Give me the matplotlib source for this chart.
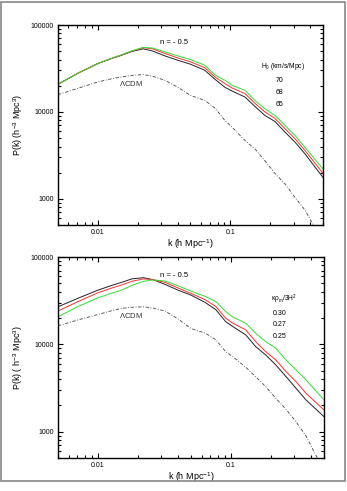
import numpy as np
import matplotlib
matplotlib.use("Agg")
import matplotlib.pyplot as plt
from matplotlib.patches import Rectangle
from matplotlib.ticker import LogLocator, NullFormatter, FixedFormatter, FixedLocator

plt.rcParams['font.family'] = ['Liberation Sans', 'DejaVu Sans']
plt.rcParams['mathtext.fontset'] = 'custom'
plt.rcParams['mathtext.rm'] = 'Liberation Sans'
plt.rcParams['mathtext.it'] = 'Liberation Sans:italic'
plt.rcParams['mathtext.default'] = 'rm'

# wavenumbers (h/Mpc)
k = [0.005, 0.007, 0.01, 0.013, 0.015, 0.018, 0.022, 0.026, 0.032, 0.04, 0.05, 0.064, 0.077,
     0.091, 0.103, 0.129, 0.153, 0.182, 0.217, 0.259, 0.308, 0.366, 0.5]

# log10 P(k), top panel: H0 = 70 / 68 / 65
top_black = [4.318, 4.442, 4.557, 4.620, 4.650, 4.695, 4.726, 4.700, 4.645, 4.595, 4.549, 4.480,
             4.372, 4.283, 4.240, 4.171, 4.064, 3.960, 3.890, 3.766, 3.651, 3.517, 3.246]
top_red = [4.318, 4.442, 4.557, 4.622, 4.653, 4.700, 4.740, 4.725, 4.673, 4.622, 4.576, 4.509,
           4.399, 4.325, 4.275, 4.210, 4.100, 4.000, 3.925, 3.805, 3.690, 3.555, 3.293]
top_green = [4.318, 4.442, 4.557, 4.624, 4.655, 4.702, 4.742, 4.735, 4.691, 4.645, 4.603, 4.538,
             4.422, 4.364, 4.306, 4.249, 4.133, 4.037, 3.960, 3.844, 3.728, 3.593, 3.341]
top_lcdm = [4.199, 4.270, 4.345, 4.385, 4.402, 4.420, 4.430, 4.410, 4.364, 4.285, 4.190, 4.133,
            4.040, 3.900, 3.824, 3.671, 3.575, 3.439, 3.293, 3.170, 3.015, 2.869, 2.500]

# log10 P(k), bottom panel: kappa rho_m / 3H^2 = 0.30 / 0.27 / 0.25
bot_black = [4.430, 4.525, 4.621, 4.680, 4.709, 4.750, 4.763, 4.740, 4.686, 4.620, 4.564, 4.479,
             4.396, 4.261, 4.204, 4.109, 3.975, 3.880, 3.765, 3.631, 3.497, 3.364, 3.172]
bot_red = [4.381, 4.487, 4.591, 4.650, 4.679, 4.722, 4.750, 4.740, 4.709, 4.645, 4.583, 4.510,
           4.433, 4.300, 4.243, 4.166, 4.032, 3.917, 3.822, 3.688, 3.573, 3.440, 3.249]
bot_green = [4.315, 4.430, 4.533, 4.590, 4.621, 4.675, 4.722, 4.737, 4.725, 4.670, 4.610, 4.548,
             4.491, 4.376, 4.312, 4.243, 4.128, 4.032, 3.956, 3.822, 3.708, 3.593, 3.364]
bot_lcdm = [4.212, 4.278, 4.342, 4.390, 4.411, 4.425, 4.430, 4.415, 4.381, 4.290, 4.181, 4.128,
            4.052, 3.917, 3.860, 3.738, 3.631, 3.516, 3.383, 3.257, 3.115, 2.951, 2.550]

top_title = r"H$_0$ (km/s/Mpc)"
top_vals = ["70", "68", "65"]
bot_title = r"$\kappa\rho_m$/3H$^2$"
bot_vals = ["0.30", "0.27", "0.25"]

fig = plt.figure(figsize=(3.47, 4.91), dpi=100)
W, H = 347, 491

def make_ax(x0, y0, x1, y1):
    return fig.add_axes([x0 / W, 1 - y1 / H, (x1 - x0) / W, (y1 - y0) / H])

def draw(ax, blk, red, grn, lcdm, ylab, title, vals):
    ax.plot(k, 10 ** np.array(lcdm), color='#444444', lw=0.6, ls=(0, (4, 2, 1, 2)))
    ax.plot(k, 10 ** np.array(blk), color='#222222', lw=0.7)
    ax.plot(k, 10 ** np.array(red), color='#ff3030', lw=0.7)
    ax.plot(k, 10 ** np.array(grn), color='#30e030', lw=0.7)
    ax.set_xscale('log')
    ax.set_yscale('log')
    ax.set_xlim(0.005, 0.5)
    ax.set_ylim(500, 100000)
    ax.yaxis.set_major_locator(FixedLocator([1000, 10000, 100000]))
    ax.yaxis.set_major_formatter(FixedFormatter(["1000", "10000", "100000"]))
    ax.yaxis.set_minor_locator(LogLocator(base=10, subs=np.arange(2, 10)))
    ax.yaxis.set_minor_formatter(NullFormatter())
    ax.xaxis.set_major_locator(FixedLocator([0.01, 0.1]))
    ax.xaxis.set_major_formatter(FixedFormatter(["0.01", "0.1"]))
    ax.xaxis.set_minor_locator(LogLocator(base=10, subs=np.arange(2, 10)))
    ax.xaxis.set_minor_formatter(NullFormatter())
    ax.tick_params(which='both', direction='in', top=True, right=True, labelsize=5, width=0.8)
    ax.tick_params(which='major', length=3.5, pad=3)
    ax.tick_params(which='minor', length=2)
    for s in ax.spines.values():
        s.set_linewidth(1.0)
    ax.set_xlabel(r"k (h Mpc$^{-1}$)", fontsize=6.5, labelpad=1)
    ax.set_ylabel(ylab, fontsize=6.5, labelpad=4)
    ax.text(0.438, 0.91, "n = - 0.5", transform=ax.transAxes, fontsize=5.5, ha='center', va='center')
    ax.text(0.275, 0.71, r"$\Lambda$CDM", transform=ax.transAxes, fontsize=5.5, ha='center',
            va='center', color='#333333')
    ax.text(0.85, 0.79, title, transform=ax.transAxes, fontsize=4.8, ha='center', va='center')
    for i, v in enumerate(vals):
        ax.text(0.835, 0.72 - i * 0.058, v, transform=ax.transAxes, fontsize=5, ha='center',
                va='center')

ax1 = make_ax(58, 25, 323, 225)
draw(ax1, top_black, top_red, top_green, top_lcdm, r"P(k) (h$^{-3}$ Mpc$^{3}$)", top_title, top_vals)
ax2 = make_ax(58, 257, 324, 458)
draw(ax2, bot_black, bot_red, bot_green, bot_lcdm, r"P(k) ( h$^{-3}$ Mpc$^{3}$)", bot_title, bot_vals)

fig.patches.append(Rectangle((1 / W, 1 - 481 / H), 344 / W, 479 / H, transform=fig.transFigure,
                             fill=False, edgecolor='#888888', lw=1.2))

fig.savefig("out.png", dpi=100)
